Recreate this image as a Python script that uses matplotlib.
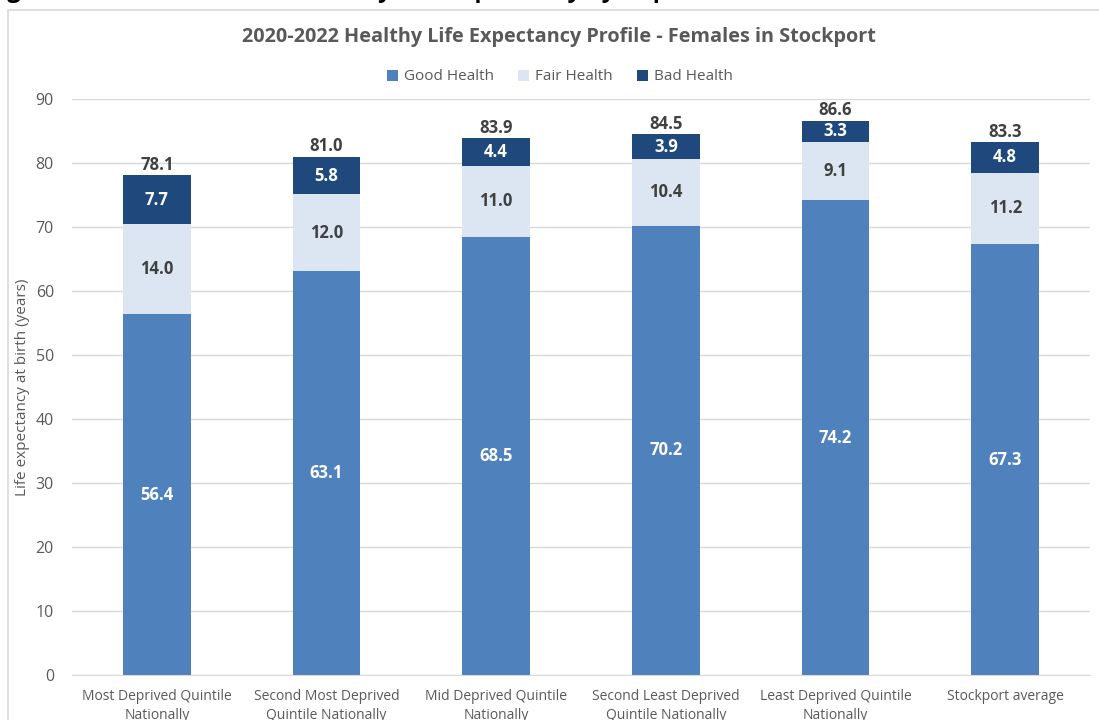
import matplotlib.pyplot as plt
from matplotlib.patches import Rectangle

plt.rcParams["font.family"] = ["Open Sans", "DejaVu Sans"]

# Data
categories = [
    "Most Deprived Quintile\nNationally",
    "Second Most Deprived\nQuintile Nationally",
    "Mid Deprived Quintile\nNationally",
    "Second Least Deprived\nQuintile Nationally",
    "Least Deprived Quintile\nNationally",
    "Stockport average",
]
good_health = [56.4, 63.1, 68.5, 70.2, 74.2, 67.3]
fair_health = [14.0, 12.0, 11.0, 10.4, 9.1, 11.2]
bad_health = [7.7, 5.8, 4.4, 3.9, 3.3, 4.8]
totals = [78.1, 81.0, 83.9, 84.5, 86.6, 83.3]
y_ticks = [0, 10, 20, 30, 40, 50, 60, 70, 80, 90]

c_good = "#4F81BD"
c_fair = "#DCE6F2"
c_bad = "#1F497D"
txt_gray = "#595959"
dark = "#404040"

fig = plt.figure(figsize=(10.99, 7.2), dpi=100)
ax = fig.add_axes([72 / 1099, 45 / 720, 1018 / 1099, 576 / 720])

# chart border (partly cut off, like the screenshot)
fig.patches.append(Rectangle((8 / 1099, -0.05), 1.2, 1 - 10 / 720 + 0.05,
                             transform=fig.transFigure, fill=False,
                             edgecolor="#D9D9D9", linewidth=1.2))

# heading above the chart, only its lower edge shows in the screenshot
fig.text(-0.012, 1 + 3 / 720, "Figure 4: Female Trends in Healthy Life Expectancy by Deprivation",
         fontsize=17, fontweight="bold", color="black", va="baseline", ha="left")

x = list(range(len(categories)))
w = 0.4
fair_bottom = [g for g in good_health]
bad_bottom = [g + f for g, f in zip(good_health, fair_health)]

ax.bar(x, good_health, w, color=c_good, label="Good Health", zorder=3)
ax.bar(x, fair_health, w, bottom=fair_bottom, color=c_fair, label="Fair Health", zorder=3)
ax.bar(x, bad_health, w, bottom=bad_bottom, color=c_bad, label="Bad Health", zorder=3)

for i in x:
    ax.text(i, good_health[i] / 2, f"{good_health[i]:.1f}", ha="center", va="center",
            color="white", fontsize=12, fontweight="bold", zorder=4)
    ax.text(i, fair_bottom[i] + fair_health[i] / 2, f"{fair_health[i]:.1f}", ha="center",
            va="center", color=dark, fontsize=12, fontweight="bold", zorder=4)
    ax.text(i, bad_bottom[i] + bad_health[i] / 2, f"{bad_health[i]:.1f}", ha="center",
            va="center", color="white", fontsize=12, fontweight="bold", zorder=4)
    ax.text(i, totals[i] + 0.2, f"{totals[i]:.1f}", ha="center", va="bottom",
            color=dark, fontsize=12, fontweight="bold", zorder=4)

ax.set_xlim(-0.5, len(categories) - 0.5)
ax.set_ylim(0, 90)
ax.set_yticks(y_ticks)
ax.set_xticks(x)
ax.set_xticklabels(categories, fontsize=10, color=txt_gray, linespacing=1.35)
ax.tick_params(axis="y", labelsize=11.5, colors=txt_gray, length=0, pad=13)
ax.tick_params(axis="x", length=0, pad=10)
ax.grid(axis="y", color="#D9D9D9", linewidth=1, zorder=0)
for s in ["top", "right", "left"]:
    ax.spines[s].set_visible(False)
ax.spines["bottom"].set_color("#D9D9D9")
ax.spines["bottom"].set_zorder(5)

ax.set_ylabel("Life expectancy at birth (years)", fontsize=11, color=txt_gray)
ax.yaxis.set_label_coords(-42 / 1018, 0.5)

fig.text(559 / 1099, 1 - 37 / 720, "2020-2022 Healthy Life Expectancy Profile - Females in Stockport",
         ha="center", va="center", fontsize=14.3, fontweight="bold", color=txt_gray)

ax.legend(loc="center", bbox_to_anchor=(560 / 1099, 1 - 77 / 720), bbox_transform=fig.transFigure,
          ncol=3, frameon=False, fontsize=11, labelcolor=txt_gray, handlelength=0.7,
          handleheight=0.7, handletextpad=0.4, columnspacing=1.6)

fig.savefig("out.png", dpi=100)
